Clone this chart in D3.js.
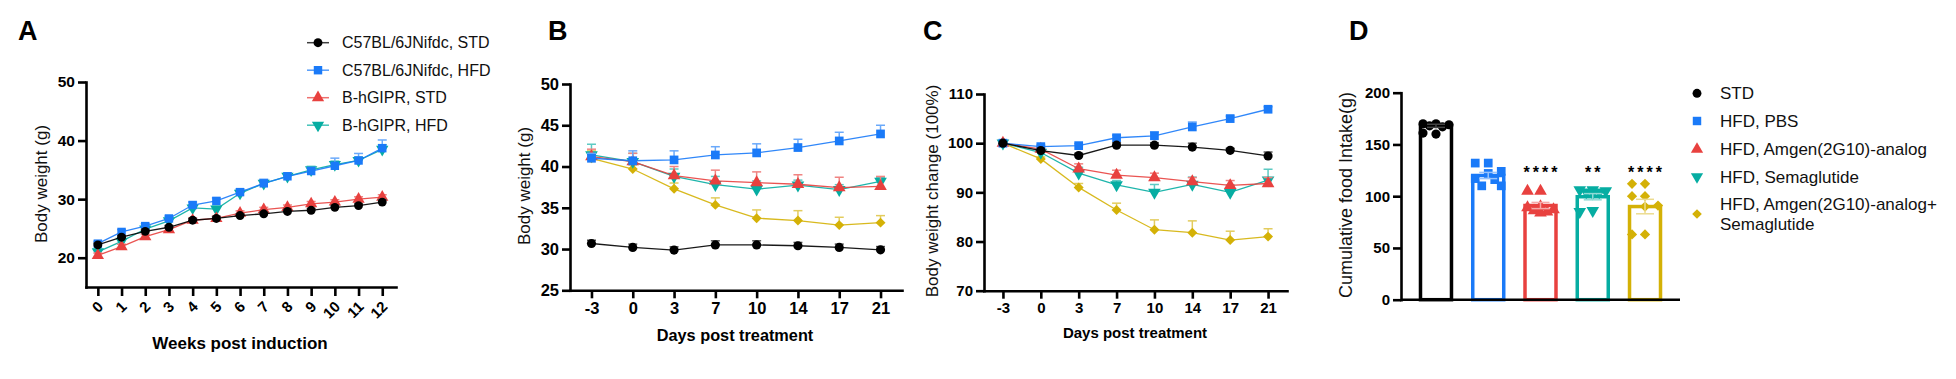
<!DOCTYPE html>
<html><head><meta charset="utf-8">
<script src="https://cdn.jsdelivr.net/npm/d3@7"></script>
<style>
body{margin:0;background:#fff;}
svg{display:block;font-family:"Liberation Sans",Arial,Helvetica,sans-serif;}
</style></head><body><svg id="chart" width="1956" height="379"></svg>
<script>
// ================= DATA =================
// Panel A
const weeks = [0,1,2,3,4,5,6,7,8,9,10,11,12];
const seriesA = ["C57BL/6JNifdc, STD","C57BL/6JNifdc, HFD","B-hGIPR, STD","B-hGIPR, HFD"];
const aC57STD = [22.2,23.5,24.5,25.2,26.4,26.7,27.2,27.5,27.9,28.1,28.6,28.9,29.5];
const aC57HFD = [22.4,24.4,25.4,26.7,29.0,29.7,31.2,32.7,33.9,34.8,35.7,36.6,38.7];
const aGipSTD = [20.4,21.9,23.6,24.8,26.4,26.7,27.6,28.2,28.6,29.2,29.5,30.0,30.35];
const aGipHFD = [21.0,22.8,24.9,26.3,28.5,28.3,31.0,32.7,33.9,35.0,35.9,36.6,38.5];
const aC57STDerr = [0.3,0.3,0.3,0.3,0.3,0.3,0.3,0.3,0.3,0.3,0.3,0.3,0.4];
const aC57HFDerr = [0.4,0.4,0.4,0.4,0.5,0.5,0.5,0.7,0.6,0.6,1.3,1.2,1.4];
const aGipSTDerr = [0.4,0.4,0.4,0.4,0.4,0.4,0.4,0.4,0.4,0.4,0.4,0.4,0.4];
const aGipHFDerr = [0.4,0.4,0.4,0.4,0.5,0.5,0.5,0.6,0.6,0.6,0.6,0.6,0.8];

// Panels B, C, D groups
const groups = ["STD","HFD, PBS","HFD, Amgen(2G10)-analog","HFD, Semaglutide","HFD, Amgen(2G10)-analog+\nSemaglutide"];
const days = ["-3","0","3","7","10","14","17","21"];

// Panel B: body weight (g)
const bSTD   = [30.67,30.2,29.87,30.5,30.5,30.4,30.2,29.9];
const bPBS   = [41.0,40.7,40.8,41.4,41.65,42.3,43.1,43.95];
const bAmgen = [41.2,40.6,38.9,38.26,38.05,37.85,37.45,37.6];
const bSema  = [41.4,40.6,38.8,37.8,37.25,37.75,37.2,38.2];
const bCombo = [41.0,39.7,37.3,35.35,33.74,33.45,32.9,33.2];
const bSTDerr   = [0.4,0.4,0.4,0.5,0.5,0.4,0.4,0.4];
const bPBSerr   = [0.6,1.2,1.1,1.0,1.1,1.0,1.05,1.05];
const bAmgenerr = [0.9,1.0,1.1,1.3,1.3,1.15,1.25,1.2];
const bSemaerr  = [1.3,1.0,0.9,1.0,1.0,0.6,0.6,0.5];
const bComboerr = [0.9,0.5,0.7,0.85,1.0,1.2,0.95,0.85];

// Panel C: body weight change (%)
const cSTD   = [100,98.5,97.5,99.6,99.6,99.2,98.55,97.4];
const cPBS   = [100,99.3,99.5,101.1,101.5,103.3,105.0,106.9];
const cAmgen = [100,98.8,94.8,93.5,93.0,92.2,91.4,91.8];
const cSema  = [100,98.1,93.9,91.5,90.0,91.6,90.0,92.5];
const cCombo = [100,96.8,91.0,86.4,82.4,81.8,80.3,81.0];
const cSTDerr   = [0,0.3,0.4,0.5,0.5,0.8,0.4,0.8];
const cPBSerr   = [0,0.3,0.4,0.5,0.8,1.0,0.5,0.5];
const cAmgenerr = [0,0.4,1.0,1.0,0.9,0.8,1.0,1.2];
const cSemaerr  = [0,0.4,1.2,0.9,1.6,1.5,1.5,2.2];
const cComboerr = [0,0.4,0.8,1.4,2.0,2.4,1.8,1.6];

// Panel D: cumulative food intake (g)
const foodMean = [168,120,91,99.5,90];
const foodSem  = [1.5,3.0,3.0,3.0,7.0];
const foodSTD   = [170,170,169,168,167,161,160];
const foodPBS   = [132,132,124,122,117,116,110,110];
const foodAmgen = [105,105,90,89,87,86,85,84];
const foodSema  = [106,106,105,104,104,103,86,85];
const foodCombo = [112,112,100,100,91,90,63,63];
const stars = ["","","****","**","****"];

// ================= STYLE =================
const colors = ["#000000","#1a7af8","#e8413f","#06ada2","#d4b106"];
const shapes = ["circle","square","triangle","triangleDown","diamond"];
const svg = d3.select("#chart");

function symbolPath(shape, s){
  const map = {circle:[d3.symbolCircle,1.0], square:[d3.symbolSquare,1.15], triangle:[d3.symbolTriangle,1.05], triangleDown:[d3.symbolTriangle,1.05], diamond:[d3.symbolSquare,0.75]};
  const m = map[shape];
  return d3.symbol().type(m[0]).size(s*m[1])();
}
function symbolRot(shape){ return shape==="triangleDown"?180:(shape==="diamond"?45:0); }
function drawSym(g, shape, x, y, color, s){
  g.append("path").attr("d", symbolPath(shape, s))
   .attr("transform", `translate(${x},${y}) rotate(${symbolRot(shape)})`)
   .attr("fill", color);
}
function lighten(c, t){ return d3.interpolateRgb(c, "#ffffff")(t); }
function styleAxis(g, fs){
  g.select(".domain").attr("stroke","#000").attr("stroke-width",2.6).attr("stroke-linecap","square");
  g.selectAll(".tick line").attr("stroke","#000").attr("stroke-width",2.6);
  g.selectAll(".tick text").attr("font-size",fs).attr("font-weight","bold").attr("fill","#000")
   .attr("font-family",'"Liberation Sans",Arial,sans-serif');
}
function panelLetter(t, x){
  svg.append("text").attr("x",x).attr("y",40).attr("font-size",27).attr("font-weight","bold").text(t);
}
function yLabel(t, x, y, fs){
  svg.append("text").attr("transform",`translate(${x},${y}) rotate(-90)`).attr("text-anchor","middle")
    .attr("font-size",fs).attr("fill","#111").text(t);
}
function xLabel(t, x, y, fs){
  svg.append("text").attr("x",x).attr("y",y).attr("text-anchor","middle")
    .attr("font-size",fs).attr("font-weight","bold").text(t);
}

// generic line-with-error drawing
function drawSeries(g, xs, vals, errs, x, y, color, shape, size){
  const pts = xs.map((d,i)=>({x:x(d), y:y(vals[i]), e:y(vals[i]+errs[i])}));
  const ec = lighten(color, 0.35);
  pts.forEach(p=>{
    if (p.y - p.e > 0.5){
      g.append("line").attr("x1",p.x).attr("x2",p.x).attr("y1",p.y).attr("y2",p.e).attr("stroke",ec).attr("stroke-width",1.5);
      g.append("line").attr("x1",p.x-4.5).attr("x2",p.x+4.5).attr("y1",p.e).attr("y2",p.e).attr("stroke",ec).attr("stroke-width",1.5);
    }
  });
  g.append("path").attr("d", d3.line().x(p=>p.x).y(p=>p.y)(pts))
    .attr("fill","none").attr("stroke",color).attr("stroke-width",1.3).attr("stroke-opacity",0.9);
  pts.forEach(p=> drawSym(g, shape, p.x, p.y, color, size));
}

// ================= PANEL A =================
(function(){
  panelLetter("A", 18);
  const x = d3.scaleLinear().domain([-0.5,12.58]).range([86,396]);
  const y = d3.scaleLinear().domain([15,50]).range([287,82]);
  const g = svg.append("g");
  const dataA = [aC57STD,aC57HFD,aGipSTD,aGipHFD];
  const errA = [aC57STDerr,aC57HFDerr,aGipSTDerr,aGipHFDerr];
  [3,2,1,0].forEach(i=> drawSeries(g, weeks, dataA[i], errA[i], x, y, colors[i], shapes[i], 62));
  const ya = svg.append("g").attr("transform","translate(86,0)")
    .call(d3.axisLeft(y).tickValues([20,30,40,50]).tickSize(8).tickPadding(3).tickSizeOuter(0));
  styleAxis(ya, 15.5);
  const xa = svg.append("g").attr("transform","translate(0,287)")
    .call(d3.axisBottom(x).tickValues(weeks).tickSize(9).tickSizeOuter(0).tickFormat(d3.format("d")));
  styleAxis(xa, 15);
  xa.selectAll(".tick text").attr("text-anchor","end").attr("y",0).attr("dy","0.35em")
    .attr("transform","translate(2,17) rotate(-45)");
  yLabel("Body weight (g)", 47, 184, 17);
  xLabel("Weeks post induction", 240, 349, 17);
  // legend
  const lg = svg.append("g");
  seriesA.forEach((s,i)=>{
    const cy = 42.7 + i*27.5;
    lg.append("line").attr("x1",307).attr("x2",329).attr("y1",cy).attr("y2",cy)
      .attr("stroke",colors[i]).attr("stroke-width",1.5).attr("stroke-opacity",0.75);
    drawSym(lg, shapes[i], 318, cy, colors[i], 62);
    lg.append("text").attr("x",342).attr("y",cy).attr("dy","0.36em").attr("font-size",16).attr("fill","#111").text(s);
  });
})();

// ================= PANELS B & C =================
function linePanel(cfg){
  panelLetter(cfg.letter, cfg.letterX);
  const x = d3.scalePoint().domain(days).range([cfg.x0, cfg.x1]).padding(cfg.pad);
  const y = d3.scaleLinear().domain(cfg.ydom).range([cfg.yb, cfg.yt]);
  const g = svg.append("g");
  [4,3,2,1,0].forEach(i=> drawSeries(g, days, cfg.data[i], cfg.err[i], x, y, colors[i], shapes[i], 66));
  const ya = svg.append("g").attr("transform",`translate(${cfg.x0},0)`)
    .call(d3.axisLeft(y).tickValues(cfg.yticks).tickSize(8).tickPadding(3).tickSizeOuter(0));
  styleAxis(ya, cfg.tfs);
  const xa = svg.append("g").attr("transform",`translate(0,${cfg.yb})`)
    .call(d3.axisBottom(x).tickSize(8).tickPadding(4).tickSizeOuter(0));
  styleAxis(xa, cfg.tfs);
  yLabel(cfg.ylabel, cfg.ylx, cfg.yly, cfg.yfs);
  xLabel("Days post treatment", cfg.xlx, cfg.xly, cfg.xfs);
}
linePanel({letter:"B", letterX:548, x0:570, x1:902, pad:0.52, ydom:[25,50], yb:290.3, yt:84, yticks:[25,30,35,40,45,50],
  data:[bSTD,bPBS,bAmgen,bSema,bCombo], err:[bSTDerr,bPBSerr,bAmgenerr,bSemaerr,bComboerr],
  tfs:16.5, ylabel:"Body weight (g)", ylx:529.5, yly:186, yfs:17, xlx:735, xly:341, xfs:16.3});
linePanel({letter:"C", letterX:923, x0:984, x1:1287, pad:0.5, ydom:[70,110], yb:290.7, yt:94, yticks:[70,80,90,100,110],
  data:[cSTD,cPBS,cAmgen,cSema,cCombo], err:[cSTDerr,cPBSerr,cAmgenerr,cSemaerr,cComboerr],
  tfs:15, ylabel:"Body weight change (100%)", ylx:938, yly:191, yfs:17, xlx:1135, xly:338, xfs:15});

// ================= PANEL D =================
(function(){
  panelLetter("D", 1349);
  const x = d3.scaleBand().domain(groups).range([1401,1680]).paddingInner(0.407).paddingOuter(0.373);
  const y = d3.scaleLinear().domain([0,200]).range([299.7,92.7]);
  const g = svg.append("g");
  const pts = [foodSTD,foodPBS,foodAmgen,foodSema,foodCombo];
  groups.forEach((grp,i)=>{
    const bx = x(grp), bw = x.bandwidth(), cx = bx + bw/2;
    g.append("rect").attr("x",bx).attr("y",y(foodMean[i])).attr("width",bw).attr("height",y(0)-y(foodMean[i]))
      .attr("fill","none").attr("stroke",colors[i]).attr("stroke-width",3.5);
    // swarm-like placement of points
    const placed = [];
    const order = pts[i].map((v,k)=>k).sort((a,b)=>pts[i][b]-pts[i][a]);
    const cands = [0,-13,13,-6.5,6.5];
    order.forEach(k=>{
      const py = y(pts[i][k]);
      let best = cands[0], bestD = -1;
      for (const c of cands){
        let md = Infinity;
        placed.forEach(p=>{ md = Math.min(md, Math.hypot(p[0]-c, p[1]-py)); });
        if (md >= 9.5){ best = c; bestD = Infinity; break; }
        if (md > bestD){ bestD = md; best = c; }
      }
      placed.push([best, py]);
    });
    placed.forEach(p=> drawSym(g, shapes[i], cx + p[0], p[1], colors[i], i===4?70:66));
    // error bar (mean ± SEM)
    const ec = i===0 ? "#444" : lighten(colors[i], 0.55);
    const yt = y(foodMean[i]+foodSem[i]), yb = y(foodMean[i]-foodSem[i]);
    g.append("line").attr("x1",cx).attr("x2",cx).attr("y1",yt).attr("y2",yb).attr("stroke",ec).attr("stroke-width",1.5);
    [yt,yb].forEach(yy=> g.append("line").attr("x1",cx-9).attr("x2",cx+9).attr("y1",yy).attr("y2",yy).attr("stroke",ec).attr("stroke-width",1.5));
    if (stars[i]){
      const top = d3.max([foodAmgen,foodSema,foodCombo].flat());
      g.append("text").attr("x",cx+1.5).attr("y",y(top)-14+8.5).attr("text-anchor","middle")
        .attr("font-size",16).attr("font-weight","bold").attr("letter-spacing",3).text(stars[i]);
    }
  });
  const ya = svg.append("g").attr("transform","translate(1401,0)")
    .call(d3.axisLeft(y).tickValues([0,50,100,150,200]).tickSize(8).tickPadding(3).tickSizeOuter(0));
  styleAxis(ya, 15);
  svg.append("line").attr("x1",1401).attr("x2",1680).attr("y1",299.7).attr("y2",299.7).attr("stroke","#000").attr("stroke-width",2.6);
  yLabel("Cumulative food Intake(g)", 1352, 195, 18);
  // legend
  const lg = svg.append("g");
  const rows = [93.3,121,149.3,176.7,214];
  groups.forEach((grp,i)=>{
    drawSym(lg, shapes[i], 1697, rows[i], colors[i], 62);
    const lines = grp.split("\n");
    const t = lg.append("text").attr("font-size",17).attr("fill","#111");
    lines.forEach((ln,j)=>{
      t.append("tspan").attr("x",1720).attr("y", rows[i] + (lines.length>1 ? (j-0.5)*20 : 0)).attr("dy","0.36em").text(ln);
    });
  });
})();
</script></body></html>
